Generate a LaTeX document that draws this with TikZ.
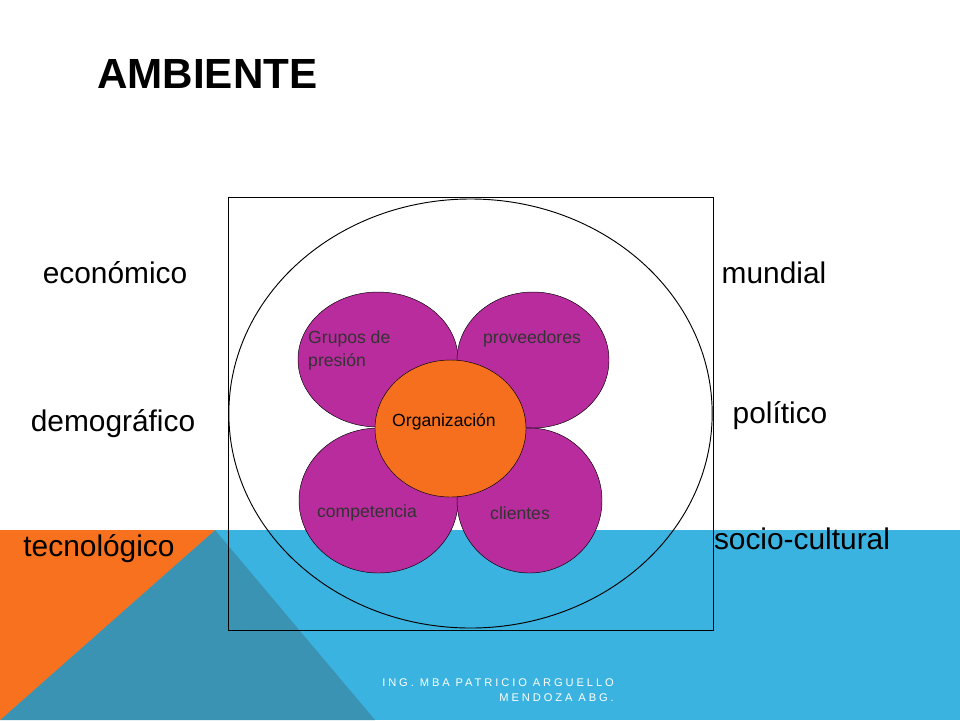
\documentclass[tikz,border=0pt]{standalone}
\usepackage{fontspec}
\setmainfont{Liberation Sans}
\usetikzlibrary{
	shapes.geometric,   %椭圆
	positioning         %定位
}
\definecolor{fondoazul}{HTML}{3BB3E0}
\definecolor{fondonaranja}{HTML}{F7711E}
\definecolor{fondoverde}{HTML}{3A93B3}
\definecolor{petalo}{HTML}{B92C9E}
\definecolor{nucleo}{HTML}{F56F1E}
\tikzset{
	every picture/.style={
		x=0.03cm,y=-0.03cm
	},
	petal/.style={ellipse,draw=black,fill=petalo,inner sep=0},
	core/.style={ellipse,draw=black,fill=nucleo,inner sep=0,
		minimum width=4.53cm,minimum height=4.11cm},
	petaltext/.style={text=black!80,font=\fontsize{15}{19}\selectfont},
	factor/.style={font=\fontsize{25.5}{30}\selectfont}
}
\begin{document}
\begin{tikzpicture}
\useasboundingbox (0,0) rectangle (960,720);
% fondo
\fill[fondoazul] (0,530) rectangle (960,720);
\fill[fondoverde] (215,530) -- (375,720) -- (0,720) -- cycle;
\fill[fondonaranja] (0,530) -- (215,530) -- (0,720) -- cycle;
% titulo
\node[anchor=base west,inner sep=0,font=\fontsize{36}{40}\bfseries] (title) at (97,88) {AMBIENTE};
% ambiente
\draw[thick] (228,197) rectangle (713,630);
\node[ellipse,draw=black,thick,minimum width=14.5cm,minimum height=12.87cm] (env) at (470.5,413.5) {};
% petalos
\node[petal,minimum width=4.8cm,minimum height=4.05cm] (grupos) at (378,359.5) {};
\node[petal,minimum width=4.56cm,minimum height=4.08cm] (prov) at (533,360) {};
\node[petal,minimum width=4.77cm,minimum height=4.35cm] (comp) at (378.5,500.5) {};
\node[petal,minimum width=4.35cm,minimum height=4.35cm] (cli) at (529.5,500.5) {};
\node[core] (org) at (450.5,428.5) {};
\node[font=\fontsize{15}{18}\selectfont] (otext) at (444,422) {Organización};
\node[petaltext,anchor=base west,align=left,inner sep=0] (gtext) at (308,366) {Grupos de\\presión};
\node[petaltext] (ptext) at (532,339) {proveedores};
\node[petaltext] (ctext) at (367,513) {competencia};
\node[petaltext] (cltext) at (520,513) {clientes};
% factores
\node[factor] (eco) at (115,273) {económico};
\node[factor] (dem) at (113,424) {demográfico};
\node[factor] (tec) at (99,549) {tecnológico};
\node[factor] (mun) at (774,273) {mundial};
\node[factor] (pol) at (780,416) {político};
\node[factor] (soc) at (802,539) {socio-cultural};
% pie
\node[anchor=east,text=white,inner sep=0,align=right,
	font=\fontsize{9.5}{12.5}\selectfont\addfontfeatures{LetterSpace=26}] (pie) at (614,690)
	{ING. MBA PATRICIO ARGUELLO\\MENDOZA ABG.};
\end{tikzpicture}
\end{document}
